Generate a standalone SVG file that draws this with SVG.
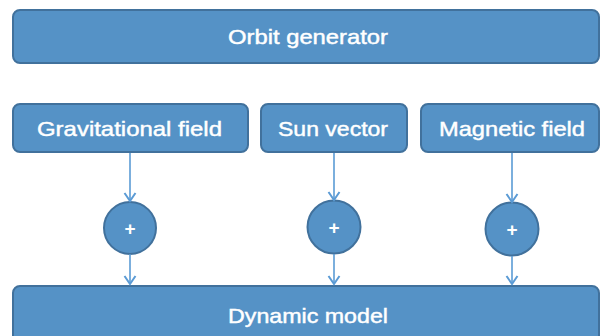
<svg xmlns="http://www.w3.org/2000/svg" width="601" height="336" viewBox="0 0 601 336">
  <defs>
    <marker id="chev" viewBox="0 0 12 14" refX="10" refY="7" markerWidth="12" markerHeight="14" markerUnits="userSpaceOnUse" orient="auto">
      <path d="M2,1.5 L10,7 L2,12.5" fill="none" stroke="#5B9BD5" stroke-width="2"/>
    </marker>
    <style>
      .box { fill: #5592C6; stroke: #41719C; stroke-width: 2; }
      .lbl { fill: #FFFFFF; stroke: #FFFFFF; stroke-width: 0.45; font-family: "Liberation Sans", Arial, sans-serif; font-size: 21px; text-anchor: middle; }
      .plus { fill: #FFFFFF; font-family: "Liberation Sans", Arial, sans-serif; font-size: 19px; font-weight: bold; text-anchor: middle; }
      .conn { stroke: #5B9BD5; stroke-width: 1.6; fill: none; marker-end: url(#chev); }
    </style>
  </defs>

  <g id="orbit-generator">
    <rect class="box" x="13" y="10" width="586" height="53" rx="7"/>
    <text class="lbl" x="308" y="44" textLength="160" lengthAdjust="spacingAndGlyphs">Orbit generator</text>
  </g>

  <g id="gravitational-field">
    <rect class="box" x="13" y="104" width="235" height="48" rx="7"/>
    <text class="lbl" x="129.5" y="136" textLength="185" lengthAdjust="spacingAndGlyphs">Gravitational field</text>
  </g>

  <g id="sun-vector">
    <rect class="box" x="261" y="104" width="146" height="48" rx="7"/>
    <text class="lbl" x="333" y="136" textLength="110" lengthAdjust="spacingAndGlyphs">Sun vector</text>
  </g>

  <g id="magnetic-field">
    <rect class="box" x="421" y="104" width="178" height="48" rx="7"/>
    <text class="lbl" x="512" y="136" textLength="146" lengthAdjust="spacingAndGlyphs">Magnetic field</text>
  </g>

  <g id="sum-1">
    <circle class="box" cx="130" cy="228" r="26"/>
    <text class="plus" x="130" y="235">+</text>
  </g>

  <g id="sum-2">
    <circle class="box" cx="334" cy="227" r="26.5"/>
    <text class="plus" x="334" y="234">+</text>
  </g>

  <g id="sum-3">
    <circle class="box" cx="512" cy="229" r="26.5"/>
    <text class="plus" x="512" y="236">+</text>
  </g>

  <g id="dynamic-model">
    <rect class="box" x="13" y="286" width="586" height="60" rx="7"/>
    <text class="lbl" x="308" y="323" textLength="160" lengthAdjust="spacingAndGlyphs">Dynamic model</text>
  </g>

  <g id="connectors">
    <line class="conn" x1="130" y1="153" x2="130" y2="201"/>
    <line class="conn" x1="130" y1="254" x2="130" y2="284"/>
    <line class="conn" x1="334" y1="153" x2="334" y2="200"/>
    <line class="conn" x1="334" y1="254" x2="334" y2="284"/>
    <line class="conn" x1="512" y1="153" x2="512" y2="202"/>
    <line class="conn" x1="512" y1="256" x2="512" y2="284"/>
  </g>
</svg>
